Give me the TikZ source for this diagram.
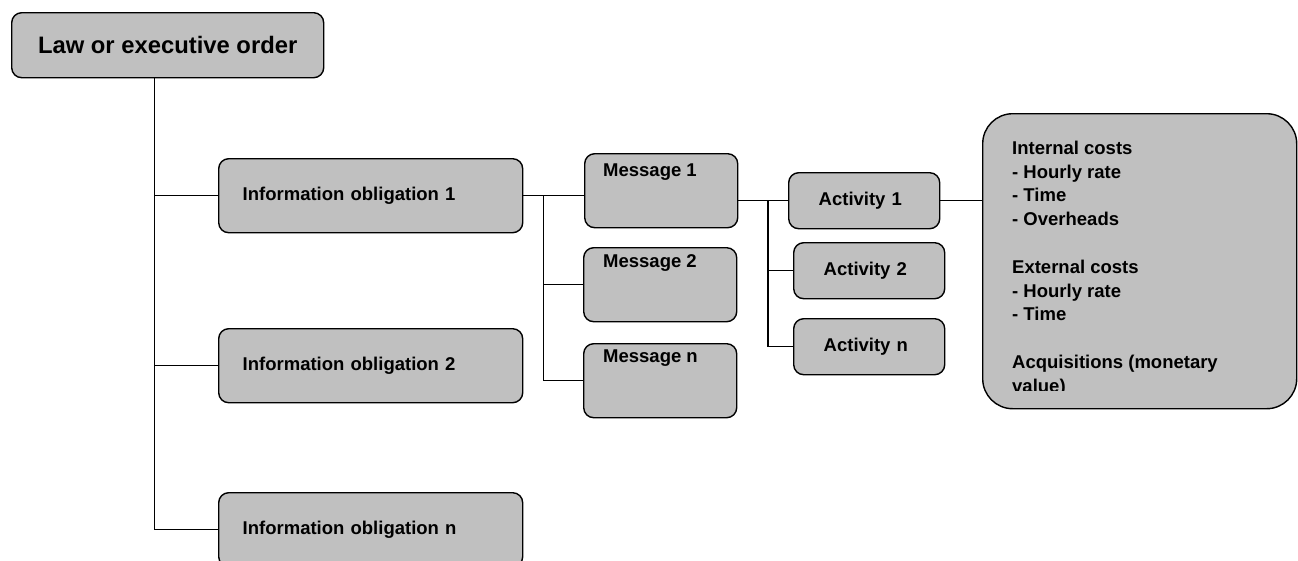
\documentclass[tikz,border=0pt]{standalone}
\usepackage{fontspec}
\setmainfont{Liberation Sans}
\definecolor{boxgray}{HTML}{C0C0C0}
\begin{document}
\begin{tikzpicture}[x=1pt,y=-1pt,
  box/.style={draw=black, fill=boxgray, line width=1.4pt, rounded corners=10pt,
    inner sep=0pt, anchor=north west, font=\bfseries\fontsize{18.5}{23.6}\selectfont},
  lbl/.style={inner sep=0pt, font=\bfseries\fontsize{18.5}{23.6}\selectfont},
  link/.style={line width=1.4pt}]
  % page frame
  \useasboundingbox (0,0) rectangle (1298,560);
  \clip (0,0) rectangle (1298,560);
  \fill[white] (0,0) rectangle (1298,560);

  % top level
  \node[box, minimum width=312pt, minimum height=65pt,
        font=\bfseries\fontsize{23.8}{28}\selectfont] (law) at (11,12) {Law or executive order};

  % information obligations
  \tikzset{iobox/.style={box, minimum width=304pt, minimum height=74pt,
      inner xsep=24pt, text width=256pt, align=left}}
  \node[iobox] (io1) at (218,158) {Information obligation 1};
  \node[iobox] (io2) at (218,328) {Information obligation 2};
  \node[iobox] (ion) at (218,492) {Information obligation n};

  % messages
  \tikzset{msgbox/.style={box, minimum width=153pt, minimum height=74pt}}
  \node[msgbox] (msg1) at (584,153) {};
  \node[msgbox] (msg2) at (583,247) {};
  \node[msgbox] (msgn) at (583,343) {};
  \node[lbl, anchor=west] (msg1t) at ([xshift=19pt,yshift=-19pt]msg1.north west) {Message 1};
  \node[lbl, anchor=west] (msg2t) at ([xshift=20pt,yshift=-16pt]msg2.north west) {Message 2};
  \node[lbl, anchor=west] (msgnt) at ([xshift=20pt,yshift=-15pt]msgn.north west) {Message n};

  % activities
  \tikzset{actbox/.style={box, minimum width=151pt, minimum height=56pt,
      inner xsep=30pt, text width=91pt, align=left}}
  \node[actbox] (act1) at (788,172) {Activity 1};
  \node[actbox] (act2) at (793,242) {Activity 2};
  \node[actbox] (actn) at (793,318) {Activity n};

  % cost components
  \node[box, rounded corners=30pt, minimum width=314pt, minimum height=295pt] (cost) at (982,113) {};
  \begin{scope}
    \clip (cost.north west) rectangle ([yshift=19pt]cost.south east);
    \node[lbl, anchor=north west, align=left] (costt) at ([xshift=30pt,yshift=-28pt]cost.north west)
      {Internal costs\\- Hourly rate\\- Time\\- Overheads\\[24.5pt]External costs\\- Hourly rate\\- Time\\[24.5pt]Acquisitions (monetary\\value)};
  \end{scope}

  % connectors
  \coordinate (spine) at ([xshift=-13pt]law.south);
  \draw[link] (spine) |- (ion.west);
  \draw[link] (spine |- io1.west) -- (io1.west);
  \draw[link] (spine |- io2.west) -- (io2.west);

  \draw[link] (io1.east) -- (io1.east -| msg1.west);
  \coordinate (mbranch) at ([xshift=20pt]io1.east);
  \draw[link] (mbranch) |- (msg2.west);
  \draw[link] (mbranch) |- (msgn.west);

  \draw[link] (msg1.east |- act1.west) -- (act1.west);
  \coordinate (abranch) at ([xshift=-20pt]act1.west);
  \draw[link] (abranch) |- (act2.west);
  \draw[link] (abranch) |- (actn.west);

  \draw[link] (act1.east) -- (act1.east -| cost.west);
\end{tikzpicture}
\end{document}
